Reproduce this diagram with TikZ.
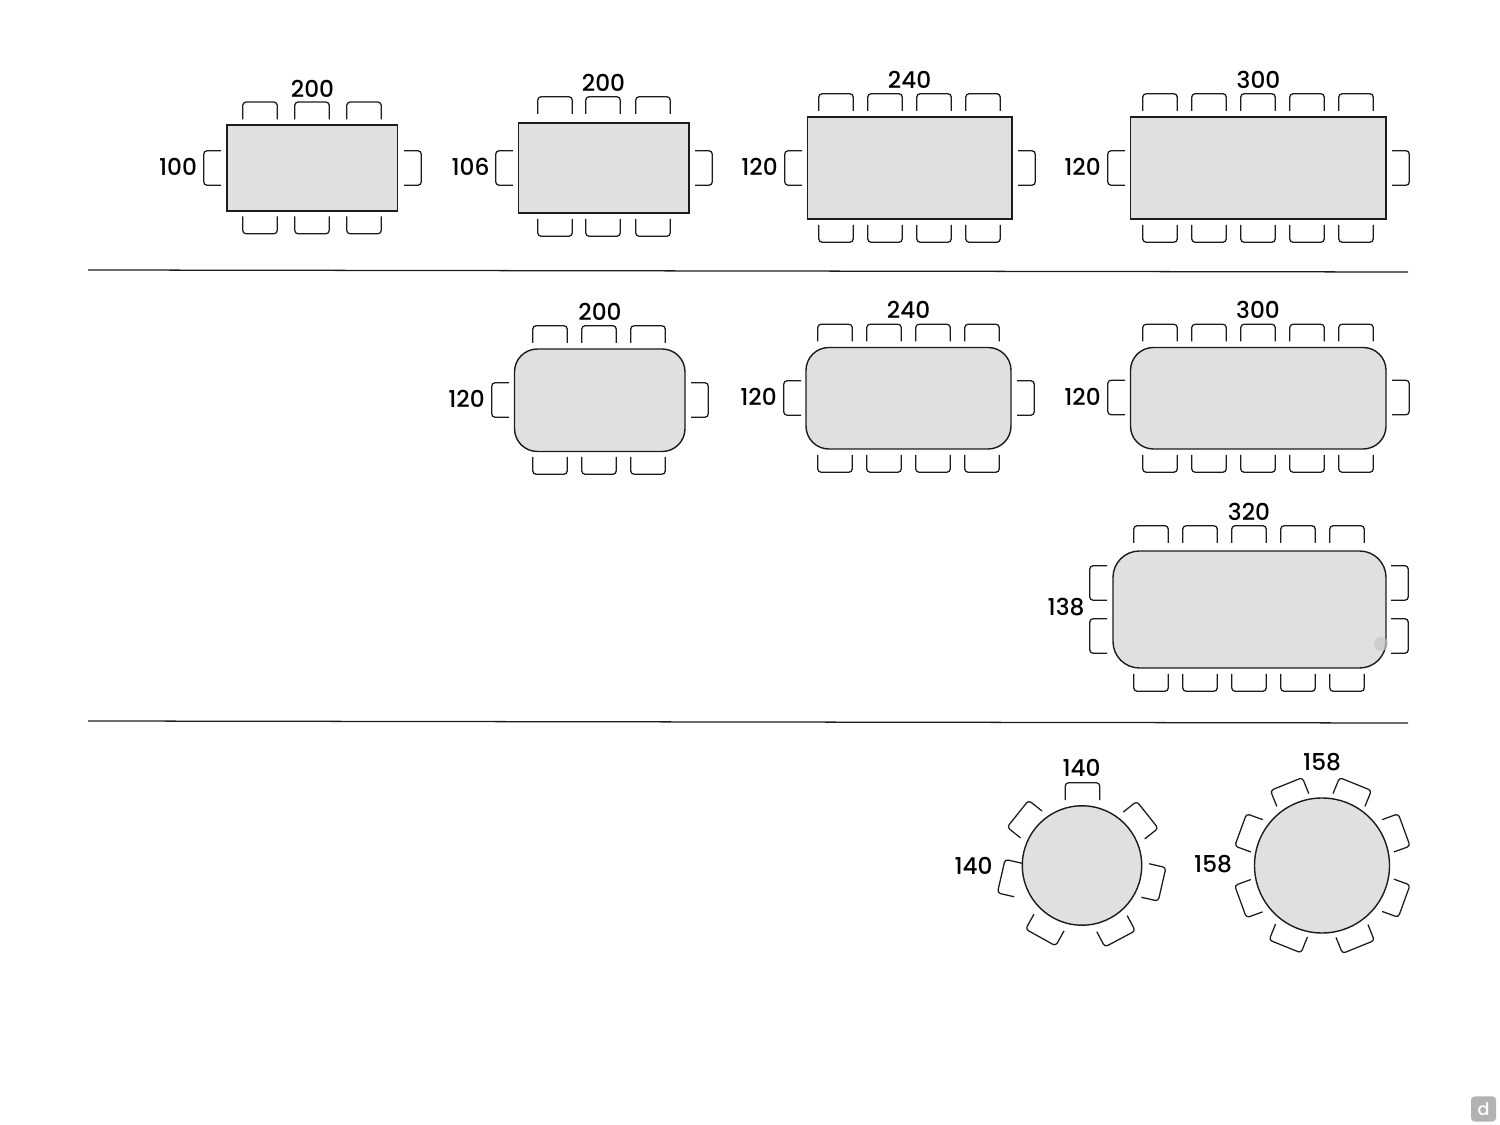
\documentclass[tikz,border=0pt]{standalone}
\usepackage{fontspec}
\setmainfont{Poppins Medium}
\definecolor{tablegrey}{HTML}{E0E0E0}
\definecolor{inkline}{HTML}{1C1C1C}
\tikzset{
  chair/.pic={\draw[chairline,rounded corners=0.9pt] (-17.2,0) -- (-17.2,-17.2) -- (17.2,-17.2) -- (17.2,0);},
  chairline/.style={draw=inkline,line width=0.36pt},
  tabletop/.style={draw=inkline,fill=tablegrey,line width=0.4pt},
  sizelabel/.style={font=\fontsize{6.6}{7}\selectfont,text=black,inner sep=0pt},
  divider/.style={draw=inkline,line width=0.36pt}
}
\begin{document}
\begin{tikzpicture}[x=0.01cm,y=-0.01cm]
\useasboundingbox (0,0) rectangle (1500,1125);
\draw[divider] (88,270) -- (1408,272);
\draw[divider] (88,721) -- (1408,723);

\draw[tabletop] (227,125) rectangle (397.5,211);
\foreach \x in {260,312,364} {
  \pic at (\x,119.3) {chair};
  \pic[rotate=180] at (\x,216.5) {chair};
}
\pic[rotate=90] at (221,168) {chair};
\pic[rotate=-90] at (404,168) {chair};
\node[sizelabel] (wA) at (312.5,89) {200};
\node[sizelabel] (dA) at (178,166.5) {100};

\draw[tabletop] (518.5,123) rectangle (689,213);
\foreach \x in {555,603,653} {
  \pic at (\x,114) {chair};
  \pic[rotate=180] at (\x,219) {chair};
}
\pic[rotate=90] at (513,168) {chair};
\pic[rotate=-90] at (695,168) {chair};
\node[sizelabel] (wB) at (603.5,83) {200};
\node[sizelabel] (dB) at (470.5,166.5) {106};

\draw[tabletop] (807.5,117) rectangle (1012,219);
\foreach \x in {836,885,934,983} {
  \pic at (\x,111) {chair};
  \pic[rotate=180] at (\x,225) {chair};
}
\pic[rotate=90] at (802,168) {chair};
\pic[rotate=-90] at (1018,168) {chair};
\node[sizelabel] (wC) at (909.5,80) {240};
\node[sizelabel] (dC) at (759.5,166.5) {120};

\draw[tabletop] (1130.5,117) rectangle (1386,219);
\foreach \x in {1160,1209,1258,1307,1356} {
  \pic at (\x,111) {chair};
  \pic[rotate=180] at (\x,225) {chair};
}
\pic[rotate=90] at (1125,168) {chair};
\pic[rotate=-90] at (1392,168) {chair};
\node[sizelabel] (wD) at (1258.5,80) {300};
\node[sizelabel] (dD) at (1082.5,166.5) {120};

\draw[tabletop,rounded corners=6.5pt] (514.5,349) rectangle (685,451.5);
\foreach \x in {550,599,648} {
  \pic at (\x,343) {chair};
  \pic[rotate=180] at (\x,457) {chair};
}
\pic[rotate=90] at (509,400) {chair};
\pic[rotate=-90] at (691,400) {chair};
\node[sizelabel] (wE) at (600,312) {200};
\node[sizelabel] (dE) at (466.5,399) {120};

\draw[tabletop,rounded corners=6.5pt] (806,347.5) rectangle (1011,449);
\foreach \x in {835,884,933,982} {
  \pic at (\x,341.5) {chair};
  \pic[rotate=180] at (\x,455) {chair};
}
\pic[rotate=90] at (801,398) {chair};
\pic[rotate=-90] at (1017,398) {chair};
\node[sizelabel] (wF) at (908.5,310) {240};
\node[sizelabel] (dF) at (758.5,397) {120};

\draw[tabletop,rounded corners=6.5pt] (1130.5,347.5) rectangle (1386,449);
\foreach \x in {1160,1209,1258,1307,1356} {
  \pic at (\x,341.5) {chair};
  \pic[rotate=180] at (\x,455) {chair};
}
\pic[rotate=90] at (1125,397.5) {chair};
\pic[rotate=-90] at (1392,397.5) {chair};
\node[sizelabel] (wG) at (1258,310) {300};
\node[sizelabel] (dG) at (1082.5,397) {120};

\draw[tabletop,rounded corners=7.5pt] (1113,551) rectangle (1386,668);
\fill[gray!45,opacity=0.7] (1381,644) circle (7);
\foreach \x in {1151,1200,1249,1298,1347} {
  \pic at (\x,543) {chair};
  \pic[rotate=180] at (\x,674) {chair};
}
\foreach \y in {583,636} {
  \pic[rotate=90] at (1107,\y) {chair};
  \pic[rotate=-90] at (1391,\y) {chair};
}
\node[sizelabel] (wH) at (1249,512) {320};
\node[sizelabel] (dH) at (1066,607) {138};

\draw[tabletop] (1082,865.5) circle (59.7);
\foreach \a/\x/\y in {0/1082.5/800,51.4/1031.3/824.5,77.1/1018/880,151/1049/922.5,208/1112/923.7,257/1145.3/880.5,308.6/1134/825.5} {
  \pic[rotate=\a] at (\x,\y) {chair};
}
\node[sizelabel] (wJ) at (1081.5,768) {140};
\node[sizelabel] (dJ) at (973.5,865.5) {140};

\draw[tabletop] (1322,865.5) circle (67.5);
\foreach \a/\x/\y in {22/1292.8/800,338/1349/800,70/1256.8/835.8,110/1256.7/895.7,158/1291.5/930.5,202/1352/931,250/1388/895.3,290/1388/835.8} {
  \pic[rotate=\a] at (\x,\y) {chair};
}
\node[sizelabel] (wK) at (1322,762) {158};
\node[sizelabel] (dK) at (1213,864) {158};

\node[fill=gray!60,rounded corners=1pt,minimum size=0.25cm,inner sep=0pt,text=white,font=\fontsize{5}{5}\selectfont] (badge) at (1483.5,1109) {d};
\end{tikzpicture}
\end{document}
